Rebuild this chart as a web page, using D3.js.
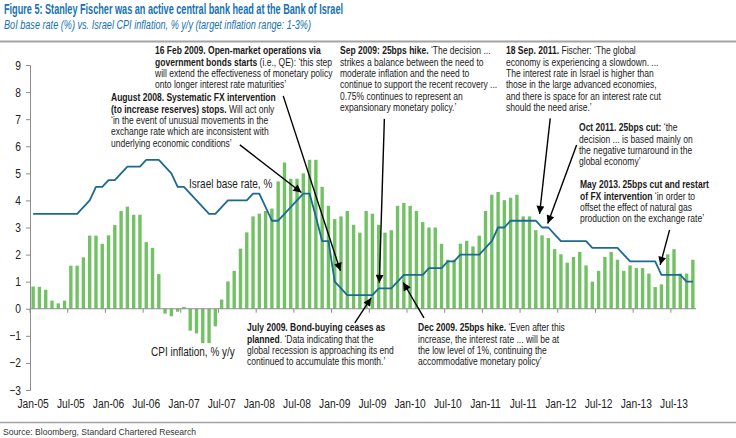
<!DOCTYPE html>
<html><head><meta charset="utf-8">
<script src="https://cdn.jsdelivr.net/npm/d3@7"></script>
<style>
html,body{margin:0;padding:0;background:#fff;}
svg{display:block;}
</style></head>
<body>
<svg id="c" width="736" height="438"></svg>
<script>
// ---------------- DATA ----------------
const startMonth = new Date(Date.UTC(2005,0,1));
const endMonth = new Date(Date.UTC(2013,10,1)); // exclusive -> last = Oct-13
const months = d3.utcMonth.range(startMonth, endMonth);

const cpiInflation = [
 0.82,0.81,0.70,0.30,0.20,0.30,1.59,1.59,1.90,2.70,2.70,2.40,
 2.71,3.09,3.61,3.77,3.47,3.47,2.46,2.25,1.28,-0.18,-0.28,-0.11,
 0.07,-0.81,-0.91,-1.27,-1.27,-0.65,0.34,1.01,1.40,2.22,2.82,3.41,
 3.51,3.61,3.70,4.70,5.40,4.80,4.80,5.00,5.50,5.50,4.50,3.80,
 3.31,3.41,3.61,3.10,2.81,3.61,3.51,3.10,2.81,2.90,3.80,3.91,
 3.80,3.61,3.20,3.00,3.00,2.40,1.81,1.81,2.40,2.51,2.30,2.70,
 3.61,4.21,4.31,4.01,4.10,4.21,3.41,3.41,2.90,2.71,2.61,2.20,
 2.01,1.70,1.91,2.10,1.60,1.00,1.40,1.91,2.10,1.81,1.40,1.60,
 1.50,1.50,1.30,0.80,0.90,2.01,2.20,1.30,1.30,1.81
];

const baseRate = [
 3.5,3.5,3.5,3.5,3.5,3.5,3.5,3.5,3.75,4.0,4.5,4.5,
 4.75,4.75,5.0,5.25,5.25,5.25,5.5,5.5,5.5,5.25,5.0,4.5,
 4.5,4.25,4.0,3.75,3.5,3.5,3.75,4.0,4.0,4.0,4.0,4.25,
 4.25,3.75,3.25,3.25,3.5,3.75,4.0,4.25,4.25,3.4,2.5,2.5,
 1.0,0.75,0.5,0.5,0.5,0.5,0.5,0.75,0.75,0.75,1.0,1.25,
 1.25,1.25,1.25,1.5,1.5,1.5,1.75,1.75,2.0,2.0,2.0,2.0,
 2.25,2.5,3.0,3.0,3.25,3.25,3.25,3.25,3.25,3.0,3.0,2.75,
 2.5,2.5,2.5,2.5,2.5,2.25,2.25,2.25,2.25,2.25,2.0,1.75,
 1.75,1.75,1.75,1.75,1.25,1.25,1.25,1.25,1.0,1.0
];

const xTickLabels = ["Jan-05","Jul-05","Jan-06","Jul-06","Jan-07","Jul-07","Jan-08","Jul-08",
 "Jan-09","Jul-09","Jan-10","Jul-10","Jan-11","Jul-11","Jan-12","Jul-12","Jan-13","Jul-13"];
const yTicks = [-3,-2,-1,0,1,2,3,4,5,6,7,8,9];

// ---------------- SETUP ----------------
const svg = d3.select("#c");
const fmt = d3.utcFormat("%b-%y");
const monthLabels = months.map(fmt);

const plot = {left:30, right:696, top:65, bottom:390};
const pad = 0.46;
const x = d3.scaleBand().domain(monthLabels).range([plot.left, plot.right])
  .paddingInner(pad).paddingOuter(pad/2);
const y = d3.scaleLinear().domain([-3,9]).range([plot.bottom, plot.top]);
const bw = x.bandwidth();
const cx = m => x(m) + bw/2;
const boundary = m => x(m) - x.step()*pad/2;
const xAt = k => plot.left + x.step()*(k+0.5); // fractional month index -> px (annotation arrows)

// font detection (narrow)
const NARROW = '"Liberation Sans Narrow","Arial Narrow"';
function measure(fam){
  const t = svg.append("text").attr("font-family",fam).attr("font-size",20)
    .text("Systematic intervention 2009");
  const w = t.node().getComputedTextLength(); t.remove(); return w;
}
const wN = measure(NARROW+',"Liberation Sans"'), wR = measure('"Liberation Sans"');
const hasNarrow = Math.abs(wN - wR) > 1;
const FAM = hasNarrow ? NARROW : '"Liberation Sans",Arial,sans-serif';
const SX = hasNarrow ? 1 : 0.82;

function narrowText(g, px, py, parts, size, opts){
  opts = opts||{};
  const t = g.append("text")
    .attr("transform", `translate(${px},${py}) scale(${SX},1)`)
    .attr("font-family", FAM).attr("font-size", size)
    .attr("fill", opts.fill||"#1a1a1a")
    .attr("text-anchor", opts.anchor||"start")
    .attr("dominant-baseline","middle");
  parts.forEach(p=>{
    t.append("tspan").attr("font-weight", p[1]?"bold":"normal").text(p[0]);
  });
  return t;
}

// ---------------- HEADER / FOOTER ----------------
svg.append("text").attr("x",4).attr("y",13.5)
  .attr("font-family",FAM).attr("font-weight","bold").attr("font-size",14)
  .attr("fill","#1672b3")
  .attr("textLength",339).attr("lengthAdjust","spacingAndGlyphs")
  .text("Figure 5: Stanley Fischer was an active central bank head at the Bank of Israel");
svg.append("text").attr("x",4).attr("y",29)
  .attr("font-family",FAM).attr("font-style","italic").attr("font-size",13)
  .attr("fill","#1672b3")
  .attr("textLength",307).attr("lengthAdjust","spacingAndGlyphs")
  .text("BoI base rate (%) vs. Israel CPI inflation, % y/y (target inflation range: 1-3%)");
svg.append("line").attr("x1",0).attr("x2",736).attr("y1",41.5).attr("y2",41.5)
  .attr("stroke","#a3a3a3").attr("stroke-width",1.8);
svg.append("line").attr("x1",0).attr("x2",736).attr("y1",422.5).attr("y2",422.5)
  .attr("stroke","#a3a3a3").attr("stroke-width",1.3);
svg.append("text").attr("x",3).attr("y",434.5)
  .attr("font-family",'"Liberation Sans",Arial,sans-serif').attr("font-size",9.2)
  .attr("fill","#333")
  .attr("textLength",193).attr("lengthAdjust","spacingAndGlyphs")
  .text("Source: Bloomberg, Standard Chartered Research");

// ---------------- BARS ----------------
svg.append("g").selectAll("rect").data(cpiInflation).join("rect")
  .attr("x",(d,i)=>x(monthLabels[i]))
  .attr("width",bw)
  .attr("y",d=>y(Math.max(0,d)))
  .attr("height",d=>Math.abs(y(d)-y(0)))
  .attr("fill","#72c265");

// ---------------- AXES ----------------
const yAxis = svg.append("g").attr("transform",`translate(${plot.left},0)`)
  .call(d3.axisLeft(y).tickValues(yTicks).tickSize(4).tickPadding(5).tickFormat(d3.format("d")));
yAxis.select(".domain").attr("stroke","#8c8c8c");
yAxis.selectAll(".tick line").attr("stroke","#8c8c8c");
yAxis.selectAll(".tick text").attr("font-family",FAM).attr("font-size",12.5).attr("fill","#222")
  .attr("transform",`scale(${SX},1)`).attr("x",-9/SX);

const xg = svg.append("g");
xg.append("line").attr("x1",plot.left).attr("x2",plot.right)
  .attr("y1",y(0)).attr("y2",y(0)).attr("stroke","#8c8c8c");
const tickMonths = monthLabels.filter(m=>xTickLabels.includes(m));
xg.selectAll("line.t").data(tickMonths).join("line").attr("class","t")
  .attr("x1",d=>boundary(d)).attr("x2",d=>boundary(d))
  .attr("y1",y(0)).attr("y2",y(0)+4).attr("stroke","#8c8c8c");
xTickLabels.forEach(lab=>{
  narrowText(xg, cx(lab), 404.5, [[lab,false]], 12.5, {anchor:"middle", fill:"#222"});
});

// ---------------- LINE ----------------
svg.append("path").datum(baseRate)
  .attr("fill","none").attr("stroke","#1d6994").attr("stroke-width",1.8)
  .attr("stroke-linejoin","round")
  .attr("d", d3.line().x((d,i)=>cx(monthLabels[i])).y(d=>y(d)));

// ---------------- SERIES LABELS ----------------
narrowText(svg, 189, 185, [["Israel base rate, %",false]], 12.2, {fill:"#222"});
narrowText(svg, 151, 353, [["CPI inflation, % y/y",false]], 12.2, {fill:"#222"});

// ---------------- ANNOTATIONS ----------------
const LH = 11.35, AS = 10.4;
const notes = [
  {x:155, y:51, lines:[
    [["16 Feb 2009. Open-market operations via",true]],
    [["government bonds starts",true],[" (i.e., QE): \u2018this step",false]],
    [["will extend the effectiveness of monetary policy",false]],
    [["onto longer interest rate maturities\u2019",false]] ]},
  {x:111, y:98, lines:[
    [["August 2008. Systematic FX intervention",true]],
    [["(to increase reserves) stops.",true],[" Will act only",false]],
    [["\u2018in the event of unusual movements in the",false]],
    [["exchange rate which are inconsistent with",false]],
    [["underlying economic conditions\u2019",false]] ]},
  {x:340, y:51, lines:[
    [["Sep 2009: 25bps hike.",true],[" \u2018The decision ...",false]],
    [["strikes a balance between the need to",false]],
    [["moderate inflation and the need to",false]],
    [["continue to support the recent recovery ...",false]],
    [["0.75% continues to represent an",false]],
    [["expansionary monetary policy.\u2019",false]] ]},
  {x:506, y:51, lines:[
    [["18 Sep. 2011.",true],[" Fischer: \u2018The global",false]],
    [["economy is experiencing a slowdown. ...",false]],
    [["The interest rate in Israel is higher than",false]],
    [["those in the large advanced economies,",false]],
    [["and there is space for an interest rate cut",false]],
    [["should the need arise.\u2019",false]] ]},
  {x:579, y:128, lines:[
    [["Oct 2011. 25bps cut:",true],[" \u2018the",false]],
    [["decision ... is based mainly on",false]],
    [["the negative turnaround in the",false]],
    [["global economy\u2019",false]] ]},
  {x:580, y:185, lines:[
    [["May 2013. 25bps cut and restart",true]],
    [["of FX intervention",true],[" \u2018in order to",false]],
    [["offset the effect of natural gas",false]],
    [["production on the exchange rate\u2019",false]] ]},
  {x:247, y:328, lines:[
    [["July 2009. Bond-buying ceases as",true]],
    [["planned",true],[". \u2018Data indicating that the",false]],
    [["global recession is approaching its end",false]],
    [["continued to accumulate this month.\u2019",false]] ]},
  {x:418, y:328, lines:[
    [["Dec 2009. 25bps hike.",true],[" \u2018Even after this",false]],
    [["increase, the interest rate ... will be at",false]],
    [["the low level of 1%, continuing the",false]],
    [["accommodative monetary policy\u2019",false]] ]}
];
const ag = svg.append("g");
notes.forEach(n=>{
  n.lines.forEach((ln,i)=>narrowText(ag, n.x, n.y + i*LH, ln, AS));
});

// arrows: [startMonthIdx, startValue, tipMonthIdx, tipValue] in data space
const arrows = [
  [39.8, 7.86, 48.9, 1.40],
  [32.9, 6.05, 42.7, 4.29],
  [55.9, 7.01, 55.1, 0.96],
  [82.3, 7.03, 80.6, 3.50],
  [86.5, 6.05, 81.9, 3.15],
  [101.3, 2.91, 99.8, 1.62],
  [51.2, -0.52, 53.8, 0.40],
  [62.2, -0.34, 58.9, 0.97]
];
svg.append("defs").append("marker").attr("id","ah")
  .attr("viewBox","0 0 10 10").attr("refX",10).attr("refY",5)
  .attr("markerUnits","userSpaceOnUse").attr("markerWidth",9).attr("markerHeight",8)
  .attr("orient","auto")
  .append("path").attr("d","M0,0 L10,5 L0,10 Z").attr("fill","#000");
svg.append("g").selectAll("line").data(arrows).join("line")
  .attr("x1",d=>xAt(d[0])).attr("y1",d=>y(d[1]))
  .attr("x2",d=>xAt(d[2])).attr("y2",d=>y(d[3]))
  .attr("stroke","#000").attr("stroke-width",1.4)
  .attr("marker-end","url(#ah)");
</script>
</body></html>
